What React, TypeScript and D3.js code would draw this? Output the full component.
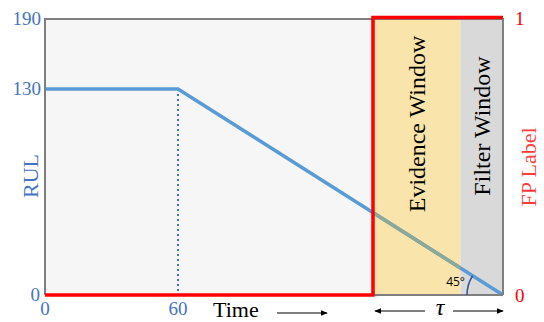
import React from 'react';
import * as d3 from 'd3';

// RUL profile (time, RUL)
const rulTimes = [0, 60, 190];
const rulValues = [130, 130, 0];

// FP label step (time, label)
const fpTimes = [0, 138, 138, 190];
const fpValues = [0, 0, 1, 1];

const evidenceStart = 138;
const filterStart = 173;
const failureTime = 190;

const rulTicks = [0, 130, 190];
const timeTicks = [0, 60];
const fpTicks = [0, 1];

const W = 544;
const H = 322;
const left = 45;
const right = 503;
const top = 19;
const bottom = 295;

const serif = "'Liberation Serif', 'Times New Roman', serif";

const App = () => {
  // schematic axes: piecewise scales
  const x = d3.scaleLinear().domain([0, 60, 190]).range([left, 178, right]);
  const y = d3.scaleLinear().domain([0, 130, 190]).range([bottom, 89, top]);
  const yFP = d3.scaleLinear().domain([0, 1]).range([bottom, 17.5]);

  const rulLine = d3.line<number>()
    .x((d, i) => x(rulTimes[i]))
    .y(d => y(d));
  const fpLine = d3.line<number>()
    .x((d, i) => x(fpTimes[i]))
    .y(d => yFP(d));

  // 45 degree angle marker at the failure point
  const cx = x(failureTime);
  const cy = y(0);
  const r = 36;
  const slope = Math.atan2(y(0) - y(130), x(190) - x(60));
  const arcPath = `M${cx - r},${cy} A${r},${r} 0 0 1 ${cx - r * Math.cos(slope)},${cy - r * Math.sin(slope)}`;

  const ex0 = x(evidenceStart);
  const ex1 = x(filterStart);

  return (
    <svg width={W} height={H} style={{ position: 'absolute', left: 0, top: 0 }}>
      <defs>
        <marker id="ah" viewBox="0 0 10 10" refX="9" refY="5" markerWidth="6" markerHeight="6" orient="auto-start-reverse">
          <path d="M0,1 L10,5 L0,9 z" fill="#000" />
        </marker>
        <clipPath id="ev">
          <rect x={ex0} y={top} width={ex1 - ex0} height={bottom - top} />
        </clipPath>
      </defs>
      <rect x={0} y={0} width={W} height={H} fill="#fff" />
      <rect x={left} y={top} width={right - left} height={bottom - top} fill="#f6f6f6" />
      <rect x={ex0} y={top} width={ex1 - ex0} height={bottom - top} fill="#f9e5ac" />
      <rect x={ex1} y={top} width={x(failureTime) - ex1} height={bottom - top} fill="#d9d9d9" />

      {/* dotted drop line */}
      <line x1={x(60)} x2={x(60)} y1={y(130)} y2={bottom} stroke="#4472c4" strokeWidth={2} strokeDasharray="2,3" />

      <path d={rulLine(rulValues) || ''} fill="none" stroke="#5b9bd5" strokeWidth={3.5} />
      <path d={rulLine(rulValues) || ''} fill="none" stroke="#8ca897" strokeWidth={3.5} clipPath="url(#ev)" />

      {/* border */}
      <path d={`M${left},${bottom} V${top} H${right} V${bottom}`} fill="none" stroke="#7f7f7f" strokeWidth={2} />
      <line x1={left} x2={right} y1={bottom} y2={bottom} stroke="#7f7f7f" strokeWidth={2} />

      <path d={arcPath} fill="none" stroke="#2f5597" strokeWidth={1.5} />
      <text x={cx - r - 2} y={cy - 9} textAnchor="end" fontFamily="'Open Sans', sans-serif" fontSize={12} fill="#000">45°</text>

      <path d={fpLine(fpValues) || ''} fill="none" stroke="#ff0000" strokeWidth={3.5} strokeLinejoin="miter" />

      <text transform={`translate(${(ex0 + ex1) / 2 + 8},124) rotate(-90)`} textAnchor="middle" fontFamily={serif} fontSize={24} fill="#000">Evidence Window</text>
      <text transform={`translate(${(ex1 + x(failureTime)) / 2 + 8},126) rotate(-90)`} textAnchor="middle" fontFamily={serif} fontSize={24} fill="#000">Filter Window</text>

      {rulTicks.map(t => (
        <text key={'r' + t} x={t === 0 ? 40 : 41} y={y(t) + 6} textAnchor="end" fontFamily={serif} fontSize={19} fill="#4472c4">{t}</text>
      ))}
      {timeTicks.map(t => (
        <text key={'t' + t} x={x(t)} y={315} textAnchor="middle" fontFamily={serif} fontSize={19} fill="#4472c4">{t}</text>
      ))}
      {fpTicks.map(t => (
        <text key={'f' + t} x={515} y={yFP(t) + 7} textAnchor="start" fontFamily={serif} fontSize={19} fill="#ff0000">{t}</text>
      ))}

      <text transform={`translate(38,176) rotate(-90)`} textAnchor="middle" fontFamily={serif} fontSize={22} fill="#4472c4">RUL</text>
      <text transform={`translate(536,167) rotate(-90)`} textAnchor="middle" fontFamily={serif} fontSize={22} fill="#ff3b3b">FP Label</text>

      <text x={213} y={317} fontFamily={serif} fontSize={22} fill="#000">Time</text>
      <line x1={277} x2={327} y1={313} y2={313} stroke="#000" strokeWidth={1.2} markerEnd="url(#ah)" />

      <text x={(ex0 + x(failureTime)) / 2 + 2} y={315} textAnchor="middle" fontFamily={serif} fontStyle="italic" fontSize={24} fill="#000">τ</text>
      <line x1={ex0 + 2} x2={425} y1={311} y2={311} stroke="#000" strokeWidth={1.2} markerStart="url(#ah)" />
      <line x1={453} x2={x(failureTime)} y1={311} y2={311} stroke="#000" strokeWidth={1.2} markerEnd="url(#ah)" />
    </svg>
  );
};

export default App;
